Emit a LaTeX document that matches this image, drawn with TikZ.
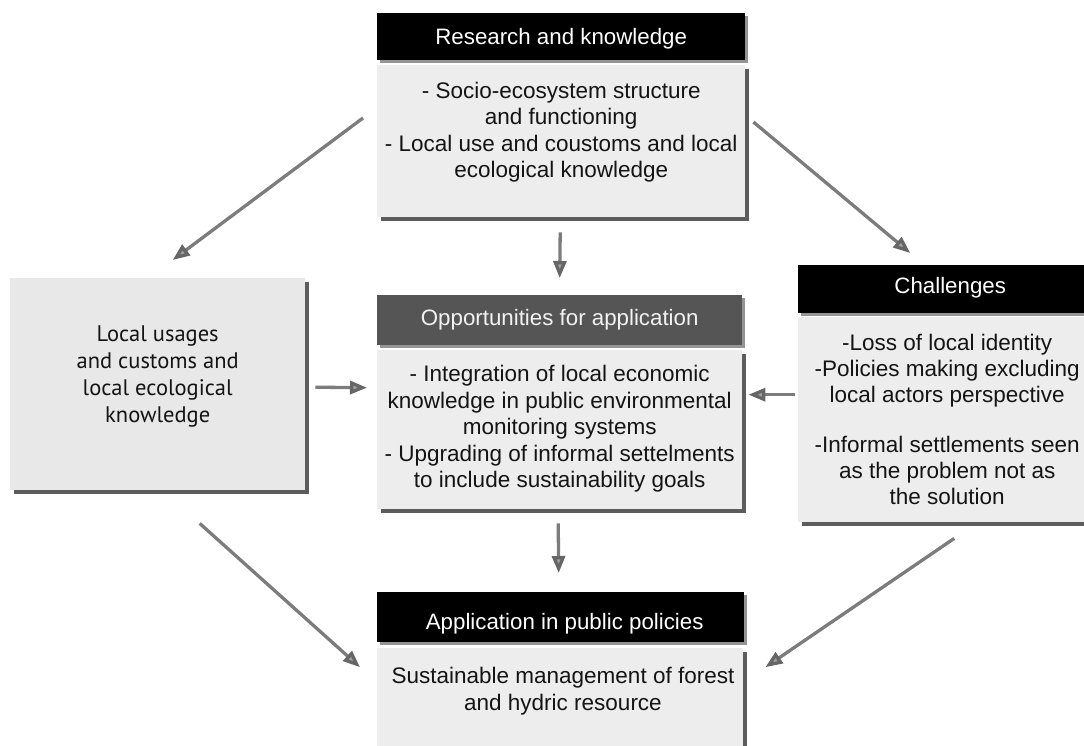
\documentclass[tikz,border=0pt]{standalone}
\usepackage{fontspec}
\setmainfont{Liberation Sans}
\newfontfamily\myriad{PT Sans}
\usetikzlibrary{arrows.meta,shadows,calc}
\definecolor{bodygray}{HTML}{EDEDED}
\definecolor{leftgray}{HTML}{E8E8E8}
\definecolor{opgray}{HTML}{555555}
\definecolor{arrgray}{HTML}{7C7C7C}
\definecolor{tipgray}{HTML}{A0A0A0}
\begin{document}
\begin{tikzpicture}[x=1pt,y=-1pt,
  shad/.style={drop shadow={shadow xshift=4pt,shadow yshift=-4pt,fill=black!80,opacity=0.8}},
  bodybox/.style={fill=bodygray, draw=none, inner sep=0pt, anchor=north west, shad},
  headbox/.style={fill=black, draw=none, inner sep=0pt, anchor=north west,
     drop shadow={shadow xshift=3pt,shadow yshift=-3pt,fill=black!60,opacity=0.7}},
  headtxt/.style={text=white, inner sep=0pt, font=\fontsize{22.3}{26}\selectfont},
  bodytxt/.style={align=center, inner sep=0pt, text=black!92, font=\fontsize{22.5}{26.5}\selectfont},
  arr/.style={draw=arrgray, line width=3.3pt,
     -{Triangle[length=17pt,width=13pt,fill=tipgray,color=black!60]}}
]
\useasboundingbox (0,0) rectangle (1084,745);

% Research and knowledge
\node[headbox, minimum width=368pt, minimum height=47pt] (rkh) at (377,13) {};
\node[headtxt] (rkht) at ([shift={(0,2)}]rkh.center) {Research and knowledge};
\node[bodybox, minimum width=368pt, minimum height=152pt] (rk) at (377,65) {};
\node[bodytxt] (rkt) at ([shift={(0,-9)}]rk.center)
  {- Socio-ecosystem structure\\and functioning\\- Local use and coustoms and local\\ecological knowledge};

% Left box
\node[bodybox, fill=leftgray, minimum width=295pt, minimum height=212pt] (lo) at (10,278) {};
\node[bodytxt, font=\myriad\fontsize{22.5}{27}\selectfont] (lot) at ([shift={(0,-8)}]lo.center)
  {Local usages\\and customs and\\local ecological\\knowledge};

% Opportunities
\node[headbox, fill=opgray, minimum width=365pt, minimum height=50pt] (oph) at (377,295) {};
\node[headtxt, text=white!95!black] (opht) at (oph.center) {Opportunities for application};
\node[bodybox, minimum width=365pt, minimum height=159pt] (op) at (377,350) {};
\node[bodytxt] (opt) at ([shift={(0,-1)}]op.center)
  {- Integration of local economic\\knowledge in public environmental\\monitoring systems\\- Upgrading of informal settelments\\to include sustainability goals};

% Challenges
\node[headbox, minimum width=304pt, minimum height=48pt] (chh) at (798,265) {};
\node[headtxt] (chht) at ([shift={(0,-1)}]chh.center) {Challenges};
\node[bodybox, minimum width=304pt, minimum height=205pt] (ch) at (798,317) {};
\node[bodytxt, font=\fontsize{22.5}{26}\selectfont] (cht) at ([shift={(-3,0)}]ch.center)
  {-Loss of local identity\\-Policies making excluding\\local actors perspective\\[24pt]-Informal settlements seen\\as the problem not as\\the solution};

% Application
\node[headbox, minimum width=367pt, minimum height=50pt] (aph) at (377,592) {};
\node[headtxt] (apht) at ([shift={(4,7)}]aph.center) {Application in public policies};
\node[bodybox, minimum width=366pt, minimum height=110pt] (ap) at (377,648) {};
\node[bodytxt] (apt) at (563,691)
  {Sustainable management of forest\\and hydric resource};

% Arrows
\draw[arr] ([shift={(-14,53)}]rk.north west) -- ([shift={(15,-18)}]lo.north);
\draw[arr] ([shift={(-1,15)}]rk.south) -- ([shift={(0,-17)}]oph.north);
\draw[arr] ([shift={(8,57)}]rk.north east) -- ([shift={(-40,-12)}]chh.north);
\draw[arr] ([shift={(10,3)}]lo.east) -- ([shift={(-10,-42)}]op.west);
\draw[arr] ([shift={(-3,-25)}]ch.west) -- ([shift={(6,-35)}]op.east);
\draw[arr] ([shift={(-1.5,14)}]op.south) -- ([shift={(-2,-19)}]aph.north);
\draw[arr] ([shift={(42,33)}]lo.south) -- ([shift={(-17,-36)}]ap.west);
\draw[arr] ([shift={(4,16)}]ch.south) -- ([shift={(22,-36)}]ap.east);
\end{tikzpicture}
\end{document}
